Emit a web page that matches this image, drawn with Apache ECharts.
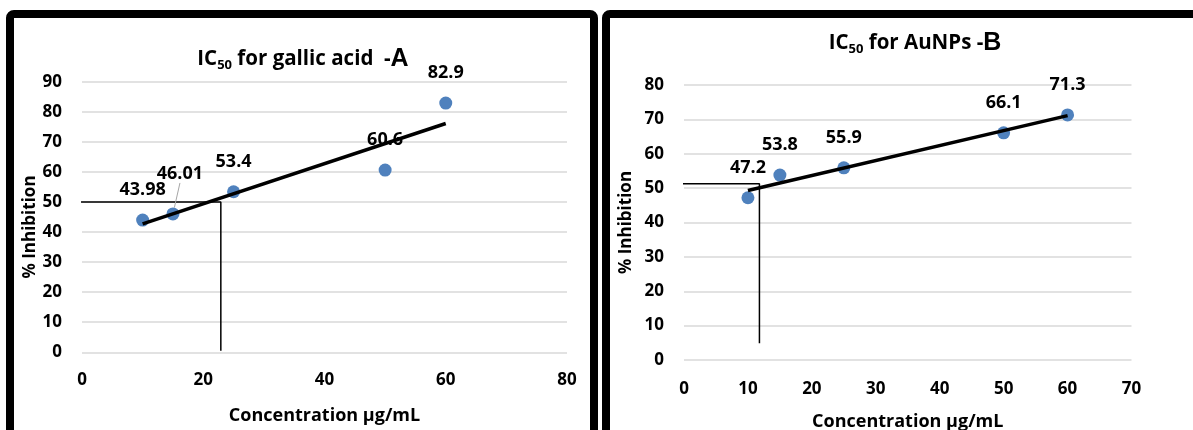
<!DOCTYPE html>
<html>
<head>
<meta charset="utf-8">
<script src="https://cdn.jsdelivr.net/npm/echarts@6/dist/echarts.min.js"></script>
<style>
html,body{margin:0;padding:0;background:#fff;}
#c{width:1193px;height:430px;}
</style>
</head>
<body>
<div id="c"></div>
<script>
// Panel A: gallic acid
const concA = [10, 15, 25, 50, 60];
const inhibA = [43.98, 46.01, 53.4, 60.6, 82.9];
const trendA = [[10, 42.7], [60, 76.1]];          // trendline endpoints
const ic50A = [[-0.6, 50], [22.9, 50], [22.9, 0.5]]; // IC50 guide lines
const xTicksA = { min: 0, max: 80, interval: 20 };
const yTicksA = { min: 0, max: 90, interval: 10 };

// Panel B: AuNPs
const concB = [10, 15, 25, 50, 60];
const inhibB = [47.2, 53.8, 55.9, 66.1, 71.3];
const trendB = [[10, 49.3], [60, 71.1]];
const ic50B = [[-1.6, 51.3], [11.8, 51.3], [11.8, 4.85]];
const xTicksB = { min: 0, max: 70, interval: 10 };
const yTicksB = { min: 0, max: 80, interval: 10 };

const titleA = ['IC', '50', ' for gallic acid  -', 'A'];
const titleB = ['IC', '50', ' for AuNPs -', 'B'];
const xName = 'Concentration µg/mL';
const yName = '% Inhibition';

const FONT = 'Open Sans';
const BLUE = '#4f81bd';

function pts(xs, ys) { return xs.map((x, i) => [x, ys[i]]); }

const richTitle = {
  b: { fontFamily: FONT, fontWeight: 'bold', fontSize: 20.5, lineHeight: 30, color: '#000' },
  s: { fontFamily: FONT, fontWeight: 'bold', fontSize: 13, lineHeight: 12, color: '#000', padding: [13, 0, 0, 0] },
  a: { fontFamily: 'Liberation Sans', fontWeight: 'bold', fontSize: 25, lineHeight: 30, color: '#000' }
};
function titleText(t) { return '{b|' + t[0] + '}{s|' + t[1] + '}{b|' + t[2] + '}{a|' + t[3] + '}'; }

function xAxis(idx, t, gap, margin) {
  return {
    type: 'value', gridIndex: idx, min: t.min, max: t.max, interval: t.interval,
    axisLine: { show: false }, axisTick: { show: false }, splitLine: { show: false },
    axisLabel: { fontFamily: FONT, fontWeight: 'bold', fontSize: 17, color: '#000', margin: margin },
    name: xName, nameLocation: 'middle', nameGap: gap,
    nameTextStyle: { fontFamily: FONT, fontWeight: 'bold', fontSize: 18, color: '#000' }
  };
}
function yAxis(idx, t, gap, pad) {
  return {
    type: 'value', gridIndex: idx, min: t.min, max: t.max, interval: t.interval,
    axisLine: { show: false }, axisTick: { show: false },
    splitLine: { show: true, lineStyle: { color: '#d9d9d9', width: 1.5 } },
    axisLabel: { fontFamily: FONT, fontWeight: 'bold', fontSize: 17, color: '#000', margin: 20 },
    name: yName, nameLocation: 'middle', nameGap: gap, nameRotate: 90,
    nameTextStyle: { fontFamily: FONT, fontWeight: 'bold', fontSize: 17, color: '#000', padding: pad }
  };
}
function scatter(idx, data, layoutFn) {
  return {
    type: 'scatter', xAxisIndex: idx, yAxisIndex: idx, data: data, symbolSize: 13, z: 2,
    itemStyle: { color: BLUE, opacity: 1 },
    label: {
      show: true, position: 'top', distance: 14.5,
      fontFamily: FONT, fontWeight: 'bold', fontSize: 18, color: '#000', opacity: 1,
      formatter: p => String(p.value[1])
    },
    labelLayout: layoutFn,
    labelLine: { show: false, lineStyle: { color: '#a6a6a6', width: 1 } }
  };
}
function line(idx, data, width, z) {
  return {
    type: 'line', xAxisIndex: idx, yAxisIndex: idx, data: data, symbol: 'none', clip: false, z: z,
    lineStyle: { color: '#000', width: width }, silent: true
  };
}

const dataA = pts(concA, inhibA).map((v, i) => i === 1 ? { value: v, labelLine: { show: true } } : v);

const chart = echarts.init(document.getElementById('c'), null, { renderer: 'canvas' });
chart.setOption({
  backgroundColor: '#fff',
  animation: false,
  title: [
    { text: titleText(titleA), left: 303, top: 44, textAlign: 'center', padding: 0, textStyle: { rich: richTitle } },
    { text: titleText(titleB), left: 915, top: 28, textAlign: 'center', padding: 0, textStyle: { rich: richTitle } }
  ],
  grid: [
    { left: 82, top: 81.7, width: 485, height: 270.6, containLabel: false, outerBoundsMode: 'none' },
    { left: 684, top: 85, width: 447.5, height: 275, containLabel: false, outerBoundsMode: 'none' }
  ],
  xAxis: [xAxis(0, xTicksA, 55, 19), xAxis(1, xTicksB, 52.5, 21)],
  yAxis: [yAxis(0, yTicksA, 43, [0, 20, 0, 0]), yAxis(1, yTicksB, 49, 0)],
  series: [
    line(0, ic50A, 1.5, 1),
    scatter(0, dataA, function (p) {
      if (p.dataIndex === 1) return { dx: 7, dy: -10 };
      return {};
    }),
    line(0, trendA, 3.5, 3),
    line(1, ic50B, 1.5, 1),
    scatter(1, pts(concB, inhibB)),
    line(1, trendB, 3.5, 3)
  ],
  graphic: [
    { type: 'rect', shape: { x: 10, y: 14, width: 584, height: 460, r: 4 },
      style: { fill: null, stroke: '#000', lineWidth: 8 }, z: 100 },
    { type: 'rect', shape: { x: 606, y: 14, width: 640, height: 460, r: 4 },
      style: { fill: null, stroke: '#000', lineWidth: 8 }, z: 100 }
  ]
});
</script>
</body>
</html>
